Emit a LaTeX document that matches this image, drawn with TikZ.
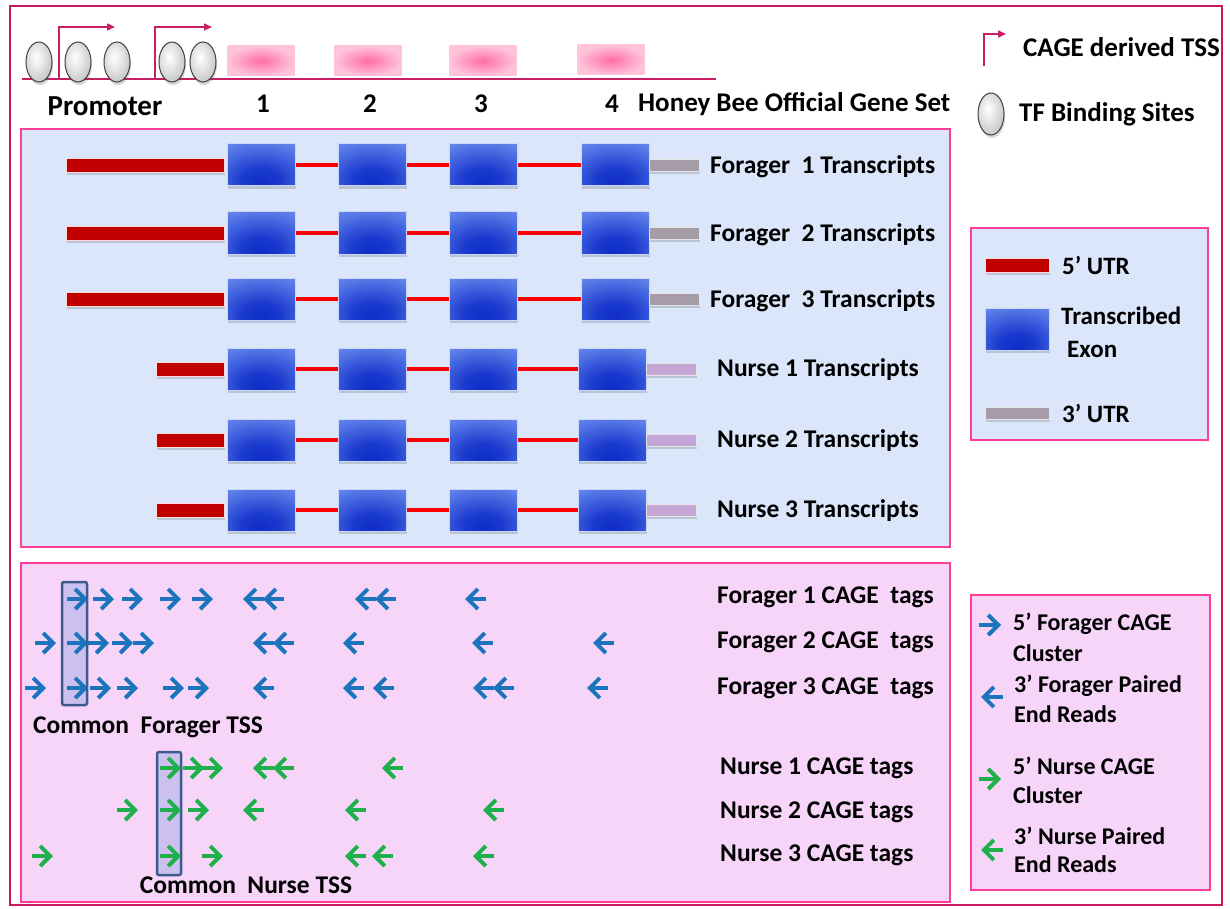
\documentclass[tikz,border=0pt]{standalone}
\usepackage{fontspec}
\setmainfont{Carlito}
\usetikzlibrary{arrows.meta,shadows,shapes.geometric}
\definecolor{framecol}{RGB}{200,24,95}
\definecolor{panelborder}{RGB}{255,60,150}
\definecolor{bluepanel}{RGB}{219,230,251}
\definecolor{pinkpanel}{RGB}{247,213,249}
\definecolor{utrred}{RGB}{192,0,0}
\definecolor{utrgray}{RGB}{166,156,168}
\definecolor{utrlav}{RGB}{196,166,214}
\definecolor{exonTop}{RGB}{130,160,242}
\definecolor{exonMid}{RGB}{70,105,225}
\definecolor{exonBot}{RGB}{15,45,200}
\definecolor{exonEdge}{RGB}{200,215,255}
\definecolor{pinkIn}{RGB}{255,110,165}
\definecolor{pinkOut}{RGB}{255,195,218}
\definecolor{tsspink}{RGB}{200,30,100}
\definecolor{cageblue}{RGB}{28,117,188}
\definecolor{cagegreen}{RGB}{30,176,75}
\definecolor{tssfill}{RGB}{203,192,238}
\definecolor{tssdraw}{RGB}{61,90,140}
\pgfdeclareradialshading{exonshade}{\pgfpoint{0bp}{-22bp}}{%
  color(0bp)=(exonBot); color(14bp)=(exonBot!80!exonMid); color(32bp)=(exonMid); color(55bp)=(exonTop); color(100bp)=(exonTop)}
\pgfdeclareradialshading{tfshade}{\pgfpoint{-6bp}{6bp}}{%
  color(0bp)=(white); color(14bp)=(black!10); color(38bp)=(black!28); color(58bp)=(black!48); color(100bp)=(black!48)}
\tikzset{
  lab/.style={font=\fontsize{25.5}{28}\selectfont\bfseries, inner sep=0pt},
  toplab/.style={font=\fontsize{27}{30}\selectfont\bfseries, inner sep=0pt},
  leglab/.style={font=\fontsize{24}{27}\selectfont\bfseries, inner sep=0pt, anchor=west},
  shad/.style={drop shadow={shadow xshift=1pt, shadow yshift=-3pt, opacity=0.22, fill=black!70}},
  exon/.style={rectangle, minimum width=68pt, minimum height=42pt, inner sep=0pt,
    draw=exonEdge, line width=1pt, shading=exonshade, shad},
  pexon/.style={rectangle, minimum width=67pt, minimum height=30pt, inner sep=0pt,
    inner color=pinkIn, outer color=pinkOut},
  tfsite/.style={ellipse, minimum width=26pt, minimum height=40pt, inner sep=0pt,
    draw=black!75, line width=1pt, shading=tfshade, shad},
  utrfive/.style={rectangle, minimum height=14pt, inner sep=0pt, fill=utrred, draw=white!85!red, line width=0.8pt, shad},
  utrthree/.style={rectangle, minimum height=12pt, minimum width=50pt, inner sep=0pt, fill=#1, draw=white!80!gray, line width=0.8pt, shad},
  intron/.style={draw=red, line width=3.3pt},
  tssarrow/.style={draw=tsspink, line width=1.5pt, -{Triangle[length=8pt,width=7pt]}},
  ftag/.style={draw=cageblue, line width=4pt, -{Straight Barb[length=10pt,width=20pt]}},
  ntag/.style={draw=cagegreen, line width=4pt, -{Straight Barb[length=10pt,width=20pt]}},
  tssbox/.style={draw=tssdraw, fill=tssfill, line width=2.5pt, rounded corners=2pt},
  panel/.style={draw=panelborder, line width=2.5pt, fill=#1},
}
\newcommand\tagR[3]{\draw[#1] (#2,#3) -- ++(21,0);}
\newcommand\tagL[3]{\draw[#1] (#2+21,#3) -- ++(-21,0);}
\begin{document}
\begin{tikzpicture}[x=1pt,y=-1pt]
\useasboundingbox (0,0) rectangle (1230,909);
\fill[white] (0,0) rectangle (1230,909);
\draw[framecol, line width=2.5pt] (10,6) rectangle (1222,905);

% ---------------- top gene model ----------------
\coordinate (gl) at (22,79);
\coordinate (gr) at (716,79);
\draw[tsspink, line width=1.5pt] (gl) -- (gr);
\node[pexon] (p1) at (261,61) {};
\node[pexon] (p2) at (368,61) {};
\node[pexon] (p3) at (483,61) {};
\node[pexon] (p4) at (611,60) {};
\coordinate (t1) at (59,79);
\coordinate (t2) at (155,79);
\draw[tssarrow] (t1) -- (59,27) -- (115,27);
\draw[tssarrow] (t2) -- (155,27) -- (212,27);
\node[tfsite] (s1) at (39,62) {};
\node[tfsite] (s2) at (78,62) {};
\node[tfsite] (s3) at (117,62) {};
\node[tfsite] (s4) at (172,62) {};
\node[tfsite] (s5) at (203,62) {};
\node[toplab, font=\fontsize{29}{32}\selectfont\bfseries] (prom) at (105,106) {Promoter};
\node[toplab] (n1) at (263,104) {1};
\node[toplab] (n2) at (370,104) {2};
\node[toplab] (n3) at (481,104) {3};
\node[toplab] (n4) at (612,104) {4};
\node[toplab, anchor=west] (ogs) at (638,104) {Honey Bee Official Gene Set};

% legend top right
\coordinate (lt) at (984,66);
\draw[tssarrow] (lt) -- (984,34) -- (1006,34);
\node[toplab, anchor=west] (ltl) at (1023,47) {CAGE derived TSS};
\node[tfsite, minimum height=42pt] (ltf) at (991,114) {};
\node[toplab, anchor=west] (ltfl) at (1019,114) {TF Binding Sites};

% ---------------- transcripts panel ----------------
\draw[panel=bluepanel] (21,129) rectangle (950,547);
\foreach \i/\y in {1/165,2/233,3/299}{
  \node[utrfive, minimum width=158pt] (fu\i) at (145,\y) {};
  \node[exon] (fa\i) at (261,\y) {};
  \node[exon] (fb\i) at (372,\y) {};
  \node[exon] (fc\i) at (483,\y) {};
  \node[exon] (fd\i) at (615,\y) {};
  \node[utrthree=utrgray] (fg\i) at (674,\y) {};
  \draw[intron] (fa\i.east) -- (fb\i.west);
  \draw[intron] (fb\i.east) -- (fc\i.west);
  \draw[intron] (fc\i.east) -- (fd\i.west);
  \node[lab, anchor=west] (fl\i) at (710,\y+2) {Forager~~\i\ Transcripts};
}
\foreach \i/\y in {1/369,2/440,3/510}{
  \node[utrfive, minimum width=68pt] (nu\i) at (190,\y) {};
  \node[exon] (na\i) at (261,\y) {};
  \node[exon] (nb\i) at (372,\y) {};
  \node[exon] (nc\i) at (483,\y) {};
  \node[exon] (nd\i) at (612,\y) {};
  \node[utrthree=utrlav] (ng\i) at (671,\y) {};
  \draw[intron] (na\i.east) -- (nb\i.west);
  \draw[intron] (nb\i.east) -- (nc\i.west);
  \draw[intron] (nc\i.east) -- (nd\i.west);
  \node[lab, anchor=west] (nl\i) at (717,\y+1) {Nurse \i\ Transcripts};
}

% legend 1
\draw[panel=bluepanel] (971,228) rectangle (1208,440);
\node[utrfive, minimum width=64pt] (lg1) at (1017,265) {};
\node[leglab, font=\fontsize{25}{28}\selectfont\bfseries] (lg1l) at (1062,265) {5’ UTR};
\node[exon, minimum width=64pt] (lg2) at (1017,329) {};
\node[leglab, font=\fontsize{25}{28}\selectfont\bfseries] (lg2l) at (1061,316) {Transcribed};
\node[leglab, font=\fontsize{25}{28}\selectfont\bfseries] (lg2m) at (1067,349) {Exon};
\node[utrthree=utrgray, minimum width=64pt] (lg3) at (1017,413) {};
\node[leglab, font=\fontsize{25}{28}\selectfont\bfseries] (lg3l) at (1062,413) {3’ UTR};

% ---------------- CAGE panel ----------------
\draw[panel=pinkpanel] (21,563) rectangle (950,902);
\draw[tssbox] (62,582) rectangle (87,705);
\draw[tssbox] (157,752) rectangle (181,875);
% forager rows
\foreach \x in {67,93,122,160,192}{\tagR{ftag}{\x}{599}}
\foreach \x in {243,263,355,375,465}{\tagL{ftag}{\x}{599}}
\foreach \x in {35,67,88,112,133}{\tagR{ftag}{\x}{643}}
\foreach \x in {253,273,343,472,593}{\tagL{ftag}{\x}{643}}
\foreach \x in {25,67,90,117,163,188}{\tagR{ftag}{\x}{688}}
\foreach \x in {253,343,373,473,493,587}{\tagL{ftag}{\x}{688}}
% nurse rows
\foreach \x in {160,183,202}{\tagR{ntag}{\x}{768}}
\foreach \x in {253,273,382}{\tagL{ntag}{\x}{768}}
\foreach \x in {117,160,188}{\tagR{ntag}{\x}{810}}
\foreach \x in {243,345,483}{\tagL{ntag}{\x}{810}}
\foreach \x in {32,160,202}{\tagR{ntag}{\x}{856}}
\foreach \x in {345,372,473}{\tagL{ntag}{\x}{856}}

\node[lab, anchor=west] (cf1) at (717,597) {Forager 1 CAGE~~tags};
\node[lab, anchor=west] (cf2) at (717,642) {Forager 2 CAGE~~tags};
\node[lab, anchor=west] (cf3) at (717,688) {Forager 3 CAGE~~tags};
\node[lab] (cft) at (148,727) {Common~~Forager TSS};
\node[lab, anchor=west] (cn1) at (720,768) {Nurse 1 CAGE tags};
\node[lab, anchor=west] (cn2) at (720,812) {Nurse 2 CAGE tags};
\node[lab, anchor=west] (cn3) at (720,855) {Nurse 3 CAGE tags};
\node[lab] (cnt) at (246,885) {Common~~Nurse TSS};

% legend 2
\draw[panel=pinkpanel] (971,595) rectangle (1210,890);
\coordinate (a1s) at (979,625); \coordinate (a1e) at (1001,625);
\coordinate (a2s) at (1003,697); \coordinate (a2e) at (981,697);
\coordinate (a3s) at (979,779); \coordinate (a3e) at (1001,779);
\coordinate (a4s) at (1003,850); \coordinate (a4e) at (981,850);
\draw[ftag] (a1s) -- (a1e);
\draw[ftag] (a2s) -- (a2e);
\draw[ntag] (a3s) -- (a3e);
\draw[ntag] (a4s) -- (a4e);
\node[leglab] (l21) at (1013,624) {5’ Forager CAGE};
\node[leglab] (l22) at (1013,653) {Cluster};
\node[leglab] (l23) at (1014,686) {3’ Forager Paired};
\node[leglab] (l24) at (1014,714) {End Reads};
\node[leglab] (l25) at (1013,766) {5’ Nurse CAGE};
\node[leglab] (l26) at (1013,795) {Cluster};
\node[leglab] (l27) at (1014,836) {3’ Nurse Paired};
\node[leglab] (l28) at (1014,864) {End Reads};
\end{tikzpicture}
\end{document}
